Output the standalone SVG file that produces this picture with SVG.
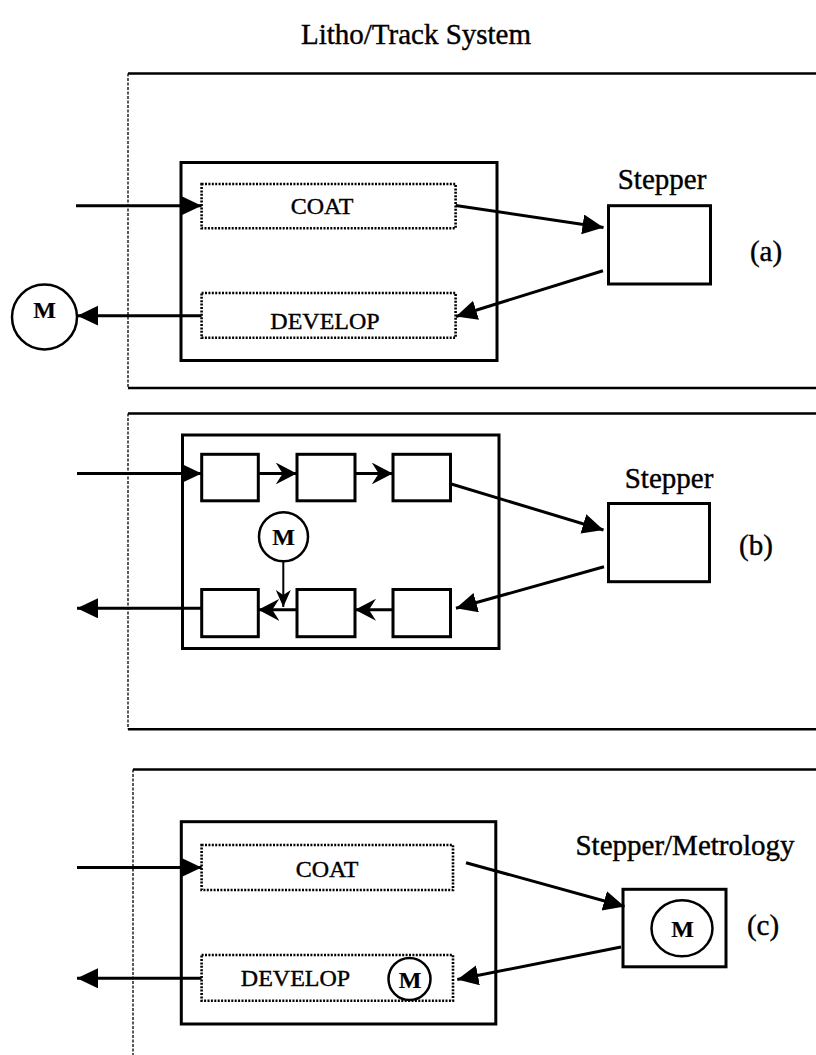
<svg xmlns="http://www.w3.org/2000/svg" width="816" height="1055" viewBox="0 0 816 1055">
<defs>
<marker id="tri" markerUnits="userSpaceOnUse" markerWidth="22" markerHeight="21" refX="21" refY="10" orient="auto"><path d="M0,0 L21,10 L0,20 z" fill="#000"/></marker>
<marker id="stealth" markerUnits="userSpaceOnUse" markerWidth="22" markerHeight="23" refX="21" refY="11" orient="auto"><path d="M0,0 L21,11 L0,22 L7,11 z" fill="#000"/></marker>
<marker id="stealthS" markerUnits="userSpaceOnUse" markerWidth="18" markerHeight="16" refX="17" refY="7.5" orient="auto"><path d="M0,0 L17,7.5 L0,15 L5,7.5 z" fill="#000"/></marker>
</defs>
<style>
text{font-family:"Liberation Serif","Times New Roman",serif;fill:#000;stroke:#000;stroke-width:0.4}
.t{font-size:29px}
.lbl{font-size:24px;text-anchor:middle}
.m{font-size:24px;font-weight:bold;text-anchor:middle;stroke-width:0.2}
.outer{fill:none;stroke:#000;stroke-width:2.5}
.outerL{fill:none;stroke:#000;stroke-width:1.3;stroke-dasharray:3,1.5}
.box{fill:#fff;stroke:#000;stroke-width:3}
.dot{fill:#fff;stroke:#000;stroke-width:2.6;stroke-dasharray:2,1.4}
.circ{fill:#fff;stroke:#000;stroke-width:2.5}
.c{fill:none;stroke:#000;stroke-width:3}
.cs{fill:none;stroke:#000;stroke-width:2}
</style>
<rect width="816" height="1055" fill="#fff"/>
<text class="t" x="416" y="44" text-anchor="middle">Litho/Track System</text>

<g id="panelA">
<path class="outer" d="M128,73.5 H830 M128,388 H830"/>
<path class="outerL" d="M128,73.5 V388"/>
<rect id="trackA" class="box" x="181" y="162.5" width="316" height="198"/>
<g id="coatA"><rect class="dot" x="201.6" y="184" width="254" height="44.3"/><text class="lbl" x="322" y="214">COAT</text></g>
<g id="developA"><rect class="dot" x="201.6" y="293" width="254" height="44.7"/><text class="lbl" x="325" y="329">DEVELOP</text></g>
<g id="stepperA"><rect class="box" x="608.5" y="205.7" width="102" height="78.3"/><text class="t" x="662" y="189" text-anchor="middle">Stepper</text></g>
<g id="mA"><circle class="circ" cx="44.5" cy="317" r="32.5"/><text class="m" x="44.5" y="318">M</text></g>
<text class="t" x="766" y="261" text-anchor="middle">(a)</text>
</g>

<g id="panelB">
<path class="outer" d="M128,413.5 H830 M128,729.3 H830"/>
<path class="outerL" d="M128,413.5 V729.3"/>
<rect id="trackB" class="box" x="182.5" y="435" width="316.5" height="213.5"/>
<rect id="b1" class="box" x="201.7" y="454.3" width="56.6" height="46.5"/>
<rect id="b2" class="box" x="297" y="454.3" width="58" height="46.5"/>
<rect id="b3" class="box" x="393" y="454.3" width="57.5" height="46.5"/>
<rect id="b4" class="box" x="201.7" y="589.5" width="56.6" height="47.2"/>
<rect id="b5" class="box" x="297" y="589.5" width="58" height="47.2"/>
<rect id="b6" class="box" x="393" y="589.5" width="57.5" height="47.2"/>
<g id="mB"><circle class="circ" cx="283.5" cy="536.7" r="24.5"/><text class="m" x="283.5" y="545">M</text></g>
<g id="stepperB"><rect class="box" x="608.5" y="503.5" width="101" height="78.2"/><text class="t" x="669" y="488" text-anchor="middle">Stepper</text></g>
<text class="t" x="756" y="555" text-anchor="middle">(b)</text>
</g>

<g id="panelC">
<path class="outer" d="M133,769.5 H830"/>
<path class="outerL" d="M133,769.5 V1060"/>
<rect id="trackC" class="box" x="181.3" y="821.7" width="314.5" height="202.3"/>
<g id="coatC"><rect class="dot" x="201.6" y="845" width="251.4" height="45"/><text class="lbl" x="327" y="877">COAT</text></g>
<g id="developC"><rect class="dot" x="201.6" y="955" width="251.4" height="45.7"/><text class="lbl" x="295.5" y="986">DEVELOP</text>
<g id="mC1"><circle class="circ" cx="409.5" cy="979" r="21"/><text class="m" x="410" y="987.5">M</text></g></g>
<g id="stepperC"><rect class="box" x="623" y="889.3" width="103" height="77.5"/><text class="t" x="685" y="855" text-anchor="middle">Stepper/Metrology</text>
<g id="mC2"><ellipse class="circ" cx="682" cy="928.3" rx="30.5" ry="28"/><text class="m" x="682.5" y="937">M</text></g></g>
<text class="t" x="763" y="935" text-anchor="middle">(c)</text>
</g>

<g id="connectors">
<line class="c" x1="76" y1="205.7" x2="201.6" y2="205.7" marker-end="url(#tri)"/>
<line class="c" x1="455.7" y1="205.5" x2="603.5" y2="227.5" marker-end="url(#tri)"/>
<line class="c" x1="603" y1="270.7" x2="456" y2="316.5" marker-end="url(#tri)"/>
<line class="c" x1="201.6" y1="315.7" x2="77.3" y2="315.7" marker-end="url(#tri)"/>

<line class="c" x1="77" y1="473.5" x2="201.7" y2="473.5" marker-end="url(#tri)"/>
<line class="c" x1="258.3" y1="473.5" x2="296.7" y2="473.5" marker-end="url(#stealth)"/>
<line class="c" x1="355" y1="473.5" x2="392.7" y2="473.5" marker-end="url(#stealth)"/>
<line class="c" x1="450.5" y1="483.7" x2="603.5" y2="530" marker-end="url(#tri)"/>
<line class="c" x1="604" y1="566.7" x2="456" y2="608.3" marker-end="url(#tri)"/>
<line class="c" x1="392.7" y1="609.8" x2="355" y2="609.8" marker-end="url(#stealth)"/>
<line class="c" x1="296.7" y1="609.8" x2="258.3" y2="609.8" marker-end="url(#stealth)"/>
<line class="cs" x1="283.3" y1="561.2" x2="283.3" y2="607" marker-end="url(#stealthS)"/>
<line class="c" x1="201.7" y1="608.3" x2="77" y2="608.3" marker-end="url(#tri)"/>

<line class="c" x1="77" y1="867.5" x2="201.6" y2="867.5" marker-end="url(#tri)"/>
<line class="c" x1="466" y1="862.7" x2="624.5" y2="906.5" marker-end="url(#tri)"/>
<line class="c" x1="621" y1="947" x2="457.3" y2="979.5" marker-end="url(#tri)"/>
<line class="c" x1="201.6" y1="978.3" x2="77" y2="978.3" marker-end="url(#tri)"/>
</g>
</svg>
